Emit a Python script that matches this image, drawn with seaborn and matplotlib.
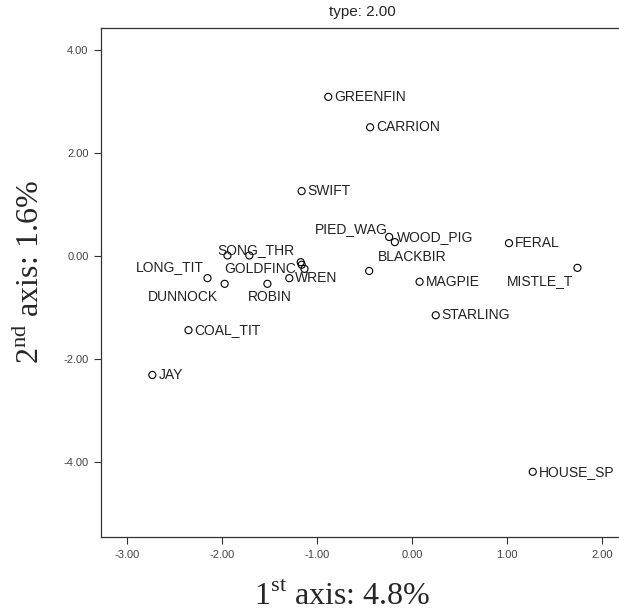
import matplotlib
matplotlib.use("Agg")
import matplotlib.pyplot as plt
import seaborn as sns
import pandas as pd

# ---- data ----
labels = ["GREENFIN", "CARRION", "SWIFT", "PIED_WAG", "WOOD_PIG", "FERAL",
          "MISTLE_T", "BLACKBIR", "MAGPIE", "STARLING", "WREN", "SONG_THR",
          "GOLDFINC", "", "", "", "LONG_TIT", "DUNNOCK", "ROBIN", "COAL_TIT",
          "JAY", "HOUSE_SP"]
axis1 = [-0.88, -0.44, -1.16, -0.24, -0.18, 1.02,
         1.74, -0.45, 0.08, 0.25, -1.29, -1.17,
         -1.16, -1.13, -1.71, -1.94, -2.15, -1.97, -1.52, -2.35,
         -2.73, 1.27]
axis2 = [3.09, 2.50, 1.26, 0.37, 0.27, 0.25,
         -0.23, -0.29, -0.50, -1.15, -0.43, -0.12,
         -0.17, -0.25, 0.01, 0.01, -0.43, -0.54, -0.54, -1.44,
         -2.31, -4.19]
xticks = [-3, -2, -1, 0, 1, 2]
yticks = [-4, -2, 0, 2, 4]
title = "type: 2.00"

df = pd.DataFrame({"label": labels, "x": axis1, "y": axis2})

# label placement (offset in pixels, horizontal alignment)
default_place = ((6, 0), "left")
placement = {
    "PIED_WAG": ((-1, 8), "right"),
    "WOOD_PIG": ((2, 5), "left"),
    "MISTLE_T": ((-4, -13), "right"),
    "BLACKBIR": ((9, 14), "left"),
    "SONG_THR": ((-6, 12), "right"),
    "GOLDFINC": ((-6, -4), "right"),
    "LONG_TIT": ((-4, 11), "right"),
    "DUNNOCK": ((-7, -13), "right"),
    "ROBIN": ((2, -13), "center"),
}

W, H = 619, 613
fig = plt.figure(figsize=(W / 100, H / 100), dpi=100)
sns.set_style("white")
plt.rcParams["font.family"] = ["Liberation Sans", "DejaVu Sans"]
plt.rcParams["mathtext.fontset"] = "custom"
plt.rcParams["mathtext.rm"] = "Liberation Serif"

left_px, right_px, top_px, bot_px = 101, 644, 28, 537
ax = fig.add_axes([left_px / W, (H - bot_px) / H,
                   (right_px - left_px) / W, (bot_px - top_px) / H])

sns.scatterplot(data=df, x="x", y="y", ax=ax, marker="o", s=26,
                facecolors="none", edgecolors="black", linewidth=0.8,
                legend=False, zorder=3)

for lab, xv, yv in zip(labels, axis1, axis2):
    if not lab:
        continue
    (dx, dy), ha = placement.get(lab, default_place)
    ax.annotate(lab, (xv, yv), xytext=(dx, dy), textcoords="offset pixels",
                ha=ha, va="center", fontsize=10, color="#222222",
                annotation_clip=False)

ax.set_xlim(-3.27, 2.44)
ax.set_ylim(-5.456, 4.427)
ax.set_xticks(xticks)
ax.set_yticks(yticks)
ax.set_xticklabels([f"{v:.2f}" for v in xticks])
ax.set_yticklabels([f"{v:.2f}" for v in yticks])
ax.tick_params(axis="both", direction="out", length=5, width=0.8,
               color="#333333", labelsize=8, labelcolor="#444444", pad=4,
               bottom=True, left=True)
for sp in ax.spines.values():
    sp.set_color("#333333")
    sp.set_linewidth(0.9)

ax.set_xlabel("")
ax.set_ylabel("")

fig.text(362 / W, 1 - 12 / H, title, ha="center", va="center", fontsize=11)
fig.text(342 / W, 1 - 597 / H, r"1$^{\mathrm{st}}$ axis: 4.8%",
         ha="center", va="center", fontsize=23, family="Liberation Serif")
fig.text(30 / W, 1 - 272 / H, r"2$^{\mathrm{nd}}$ axis: 1.6%",
         ha="center", va="center", fontsize=23, family="Liberation Serif",
         rotation=90)

fig.savefig("out.png", dpi=100)
